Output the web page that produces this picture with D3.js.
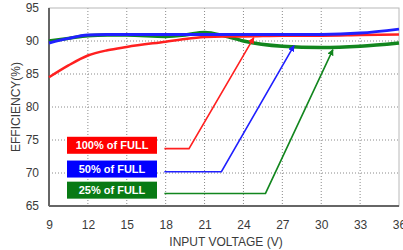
<!DOCTYPE html>
<html>
<head>
<meta charset="utf-8">
<script src="https://cdn.jsdelivr.net/npm/d3@7"></script>
<style>
  body { margin: 0; background: #fff; }
  svg { display: block; font-family: "Liberation Sans", Arial, sans-serif; }
</style>
</head>
<body>
<div id="graph"></div>
<script>
// input voltage samples (V)
const voltage = [9, 10.5, 12, 13.5, 15, 18, 19.5, 21, 22.5, 24, 27, 30, 33, 36];
// efficiency (%) per load
const eff100 = [84.5, 86.3, 87.8, 88.6, 89.1, 89.9, 90.3, 90.6, 90.7, 90.7, 90.8, 90.8, 90.9, 91.0];
const eff50  = [89.7, 90.4, 90.9, 91.0, 91.0, 91.0, 91.0, 91.0, 91.0, 91.0, 91.0, 91.0, 91.2, 91.8];
const eff25  = [90.0, 90.4, 90.8, 90.9, 90.9, 90.7, 90.9, 91.3, 90.8, 90.0, 89.2, 89.0, 89.2, 89.7];

const xTicks = [9, 12, 15, 18, 21, 24, 27, 30, 33, 36];
const yTicks = [65, 70, 75, 80, 85, 90, 95];

const labels = ['100% of FULL', '50% of FULL', '25% of FULL'];
const labelLevels = [74.2, 70.6, 67.4];
// callout leader lines: [x,y] in data units (start, knee, arrow tip)
const callout100 = [[17.9, 73.7], [19.8, 73.7], [24.8, 90.5]];
const callout50  = [[17.9, 70.2], [22.3, 70.2], [27.9, 89.3]];
const callout25  = [[17.9, 66.9], [25.7, 66.9], [30.9, 88.7]];

const colours = ['#ff2020', '#2020ff', '#12861e'];
const boxColours = ['#ff0000', '#0000ff', '#087a14'];

const width = 403, height = 250;
const margin = { top: 8, right: 4, bottom: 44, left: 49 };

const svg = d3.select('#graph')
  .append('svg')
  .attr('width', width)
  .attr('height', height);

const x = d3.scaleLinear().domain([9, 36]).range([margin.left, width - margin.right]);
const y = d3.scaleLinear().domain([65, 95]).range([height - margin.bottom, margin.top]);

// grid
svg.append('g')
  .selectAll('line')
  .data(xTicks.slice(1, -1))
  .enter()
  .append('line')
  .attr('x1', d => x(d)).attr('x2', d => x(d))
  .attr('y1', y(95)).attr('y2', y(65))
  .attr('stroke', '#8a8a8a')
  .attr('stroke-width', 1)
  .attr('stroke-dasharray', '1,2');

svg.append('g')
  .selectAll('line')
  .data(yTicks.slice(1, -1))
  .enter()
  .append('line')
  .attr('x1', x(9)).attr('x2', x(36))
  .attr('y1', d => y(d)).attr('y2', d => y(d))
  .attr('stroke', '#8a8a8a')
  .attr('stroke-width', 1)
  .attr('stroke-dasharray', '1,2');

// frame
svg.append('rect')
  .attr('x', x(9)).attr('y', y(95))
  .attr('width', x(36) - x(9)).attr('height', y(65) - y(95))
  .attr('fill', 'none')
  .attr('stroke', '#b8b8b8')
  .attr('stroke-width', 1);
svg.append('line')
  .attr('x1', x(9)).attr('x2', x(9))
  .attr('y1', y(95)).attr('y2', y(65))
  .attr('stroke', '#666').attr('stroke-width', 2);
svg.append('line')
  .attr('x1', x(9)).attr('x2', x(36))
  .attr('y1', y(65)).attr('y2', y(65))
  .attr('stroke', '#666').attr('stroke-width', 2);

// axes (labels only)
const xAxis = svg.append('g')
  .attr('transform', 'translate(0,' + (y(65) + 8) + ')')
  .call(d3.axisBottom(x).tickValues(xTicks).tickSize(0).tickPadding(6));
const yAxis = svg.append('g')
  .attr('transform', 'translate(' + (x(9) - 8) + ',0)')
  .call(d3.axisLeft(y).tickValues(yTicks).tickSize(0).tickPadding(2));
[xAxis, yAxis].forEach(a => {
  a.select('.domain').remove();
  a.selectAll('text')
    .attr('fill', '#3a3a3a')
    .style('font-size', '12px')
    .style('font-family', '"Liberation Sans", Arial, sans-serif');
});

svg.append('text')
  .attr('x', (x(9) + x(36)) / 2 + 2)
  .attr('y', 246)
  .attr('text-anchor', 'middle')
  .attr('fill', '#3a3a3a')
  .style('font-size', '12px')
  .text('INPUT VOLTAGE (V)');

svg.append('text')
  .attr('transform', 'translate(20,' + ((y(65) + y(95)) / 2) + ') rotate(-90)')
  .attr('text-anchor', 'middle')
  .attr('fill', '#3a3a3a')
  .style('font-size', '12px')
  .text('EFFICIENCY(%)');

// curves
const line = d3.line()
  .x(d => x(d[0]))
  .y(d => y(d[1]))
  .curve(d3.curveMonotoneX);

const series = [eff100, eff50, eff25];
const widths = [2.5, 3, 3.5];
[2, 0, 1].forEach(i => {
  svg.append('path')
    .datum(voltage.map((v, j) => [v, series[i][j]]))
    .attr('d', line)
    .attr('fill', 'none')
    .attr('stroke', colours[i])
    .attr('stroke-width', widths[i])
    .attr('stroke-linejoin', 'round');
});

// arrow markers
const defs = svg.append('defs');
colours.forEach((c, i) => {
  defs.append('marker')
    .attr('id', 'arrow' + i)
    .attr('viewBox', '0 0 10 10')
    .attr('refX', 9).attr('refY', 5)
    .attr('markerWidth', 4).attr('markerHeight', 4)
    .attr('orient', 'auto')
    .append('path')
    .attr('d', 'M0,0 L10,5 L0,10 z')
    .attr('fill', c);
});

const straight = d3.line().x(d => x(d[0])).y(d => y(d[1]));
[callout100, callout50, callout25].forEach((pts, i) => {
  svg.append('path')
    .datum(pts)
    .attr('d', straight)
    .attr('fill', 'none')
    .attr('stroke', colours[i])
    .attr('stroke-width', 1.6)
    .attr('marker-end', 'url(#arrow' + i + ')');
});

// label boxes
labels.forEach((t, i) => {
  const cy = y(labelLevels[i]);
  svg.append('rect')
    .attr('x', 67).attr('y', cy - 8.5)
    .attr('width', 90).attr('height', 17)
    .attr('fill', boxColours[i]);
  svg.append('text')
    .attr('x', 112).attr('y', cy + 4)
    .attr('text-anchor', 'middle')
    .attr('fill', '#fff')
    .style('font-size', '11px')
    .style('font-weight', 'bold')
    .text(t);
});
</script>
</body>
</html>
